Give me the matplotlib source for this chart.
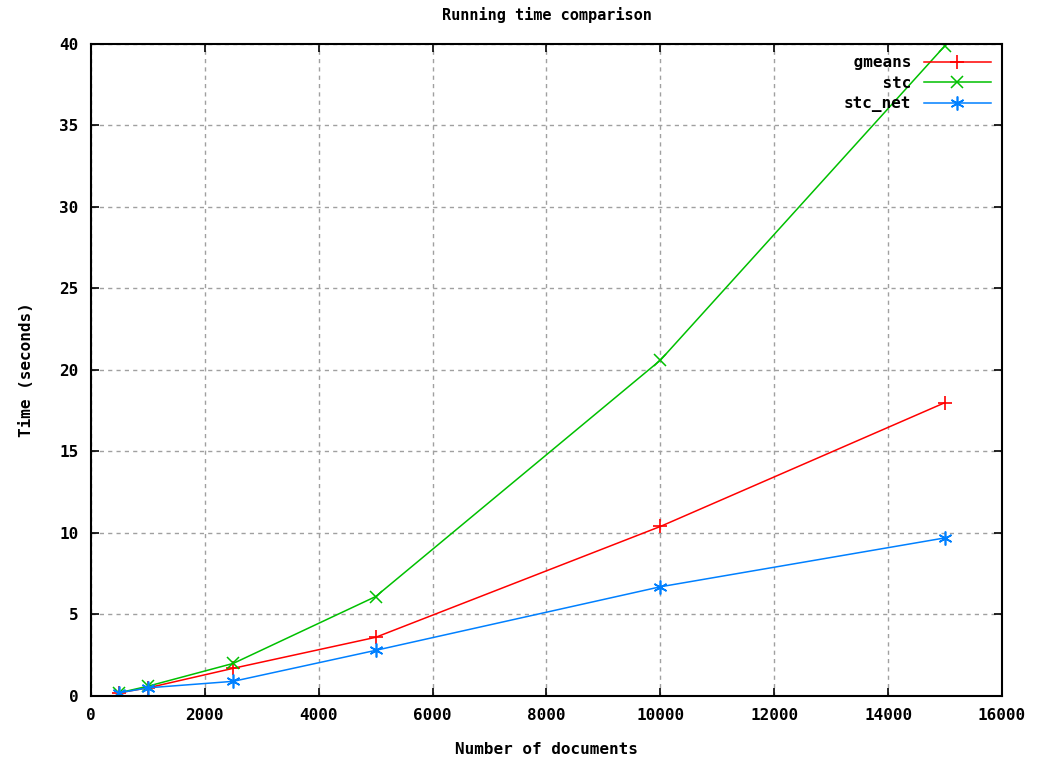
import matplotlib.pyplot as plt

# running time data
docs = [500, 1000, 2500, 5000, 10000, 15000]
gmeans = [0.2, 0.5, 1.7, 3.6, 10.4, 18.0]
stc = [0.2, 0.6, 2.0, 6.1, 20.6, 39.9]
stc_net = [0.2, 0.5, 0.9, 2.8, 6.7, 9.7]

plt.rcParams['font.family'] = 'DejaVu Sans Mono'
plt.rcParams['font.weight'] = 'bold'
plt.rcParams['axes.titleweight'] = 'bold'
plt.rcParams['axes.labelweight'] = 'bold'
plt.rcParams['font.size'] = 11

fig = plt.figure(figsize=(10.43, 7.58), dpi=100)
ax = fig.add_axes([0.0872, 0.0818, 0.8735, 0.8602])

ax.plot(docs, gmeans, color='#ff0000', marker='+', markersize=10, markeredgewidth=1.2, linewidth=1.1, label=' gmeans')
ax.plot(docs, stc, color='#00c000', marker='x', markersize=8, markeredgewidth=1.1, linewidth=1.1, label='    stc')
ax.plot(docs, stc_net, color='#0080ff', marker=(6, 2, 0), markersize=10, markeredgewidth=1.2, linewidth=1.1, label='stc_net')

ax.set_xlim(0, 16000)
ax.set_ylim(0, 40)
ax.set_xticks(range(0, 16001, 2000))
ax.set_yticks(range(0, 41, 5))
ax.tick_params(direction='in', top=True, right=True, length=6, width=1.2, labelsize=11.5, pad=9)
for s in ax.spines.values():
    s.set_linewidth(1.5)
ax.grid(True, color='#a0a0a0', linestyle=(0, (3, 3)), linewidth=1)

ax.set_title('Running time comparison', fontsize=11, pad=17)
ax.set_xlabel('Number of documents', fontsize=11.5, labelpad=13)
ax.set_ylabel('Time (seconds)', fontsize=11.5, labelpad=18)

ax.legend(loc='upper right', frameon=False, markerfirst=False, handlelength=4.2,
          fontsize=11.5, borderaxespad=0.3, labelspacing=0.35, handletextpad=0.8)

fig.savefig('out.png', dpi=100)
